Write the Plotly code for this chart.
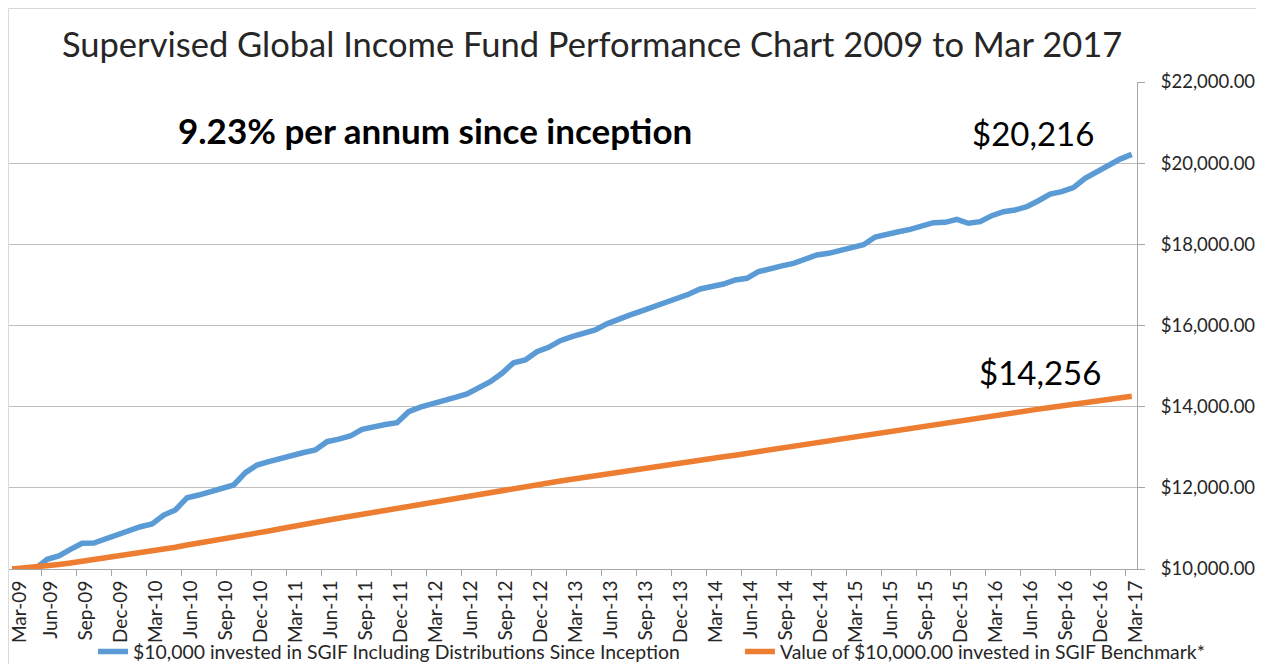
import pandas as pd
import plotly.graph_objects as go

# Months Mar-09 .. Mar-17
months = [d.strftime("%b-%y") for d in pd.date_range("2009-03-01", "2017-03-01", freq="MS")]

sgif = [10000, 9995, 10010, 10240, 10320, 10485, 10633, 10640, 10747, 10862,
        10961, 11042, 11109, 11330, 11454, 11757, 11823, 11905, 11988, 12070,
        12373, 12562, 12644, 12727, 12809, 12870, 12932, 13137, 13200, 13277,
        13442, 13510, 13560, 13605, 13876, 13990, 14080, 14150, 14230, 14312,
        14450, 14615, 14822, 15083, 15150, 15354, 15462, 15625, 15724, 15800,
        15890, 16040, 16160, 16260, 16360, 16460, 16580, 16660, 16769, 16900,
        16957, 17022, 17121, 17163, 17326, 17408, 17470, 17532, 17631, 17737,
        17779, 17850, 17900, 17990, 18180, 18230, 18311, 18370, 18440, 18533,
        18542, 18616, 18518, 18558, 18706, 18804, 18846, 18928, 19075, 19240,
        19297, 19396, 19627, 19790, 19938, 20100, 20216]

benchmark = [10000, 10020, 10045, 10070, 10110, 10150, 10190, 10230, 10270, 10310,
             10350, 10390, 10430, 10480, 10535, 10590, 10635, 10685, 10730, 10780,
             10830, 10880, 10935, 10990, 11050, 11100, 11150, 11200, 11250, 11300,
             11350, 11400, 11450, 11500, 11550, 11600, 11650, 11700, 11750, 11800,
             11845, 11895, 11940, 11985, 12035, 12080, 12125, 12170, 12210, 12255,
             12300, 12340, 12380, 12420, 12460, 12505, 12545, 12590, 12635, 12675,
             12720, 12765, 12805, 12850, 12890, 12935, 12975, 13015, 13050, 13090,
             13135, 13175, 13220, 13265, 13310, 13355, 13400, 13445, 13490, 13535,
             13585, 13630, 13675, 13720, 13765, 13810, 13855, 13900, 13940, 13980,
             14020, 14060, 14100, 14140, 14180, 14220, 14256]

series_names = ["$10,000 invested in SGIF Including Distributions Since Inception",
                "Value of $10,000.00 invested in SGIF Benchmark*"]
y_ticks = [10000, 12000, 14000, 16000, 18000, 20000, 22000]
label_every = 3

FONT = "Lato"
idx = list(range(len(months)))
lab_idx = idx[::label_every]
# rotated labels sit a little right of their month; the first one a bit more so it stays on the page
label_pos = [i + (0.7 if i == 0 else 0.36) for i in lab_idx]

fig = go.Figure()
fig.add_trace(go.Scatter(x=idx, y=sgif, mode="lines", name=series_names[0],
                         line=dict(color="#5B9BD5", width=5.5), customdata=months,
                         legend="legend",
                         hovertemplate="%{customdata}: $%{y:,.0f}<extra></extra>"))
fig.add_trace(go.Scatter(x=idx, y=benchmark, mode="lines", name=series_names[1],
                         line=dict(color="#ED7D31", width=5.5), customdata=months,
                         legend="legend2",
                         hovertemplate="%{customdata}: $%{y:,.0f}<extra></extra>"))

leg_font = dict(family=FONT, size=19.4, color="#262626")
fig.update_layout(
    width=1248, height=656,
    margin=dict(l=1, r=119, t=74, b=95, autoexpand=False),
    paper_bgcolor="white", plot_bgcolor="white",
    font=dict(family=FONT, color="#262626"),
    title=dict(text="Supervised Global Income Fund Performance Chart 2009 to Mar 2017",
               x=0.468, xanchor="center", y=0.9436, yanchor="middle",
               font=dict(family=FONT, size=34.5, color="#262626")),
    showlegend=True,
    legend=dict(orientation="h", x=0.0745, xanchor="left", y=-0.1704, yanchor="middle",
                font=leg_font, bgcolor="rgba(0,0,0,0)"),
    legend2=dict(orientation="h", x=0.648, xanchor="left", y=-0.1704, yanchor="middle",
                 font=leg_font, bgcolor="rgba(0,0,0,0)"),
    xaxis=dict(range=[-0.27, 96.45], tickmode="array",
               tickvals=label_pos,
               ticktext=[months[i] for i in lab_idx], tickangle=-90,
               ticks="", showgrid=False, zeroline=False,
               showline=True, linecolor="#A6A6A6", linewidth=1,
               ticklabelstandoff=3, ticklabeloverflow="allow",
               tickfont=dict(family=FONT, size=19, color="#262626"),
               minor=dict(tickvals=[i - 0.5 for i in lab_idx if i > 0], ticks="outside",
                          ticklen=6, tickcolor="#A6A6A6", tickwidth=1, showgrid=False)),
    yaxis=dict(side="right", range=[10000, 22000], tickmode="array", tickvals=y_ticks,
               tickformat="$,.2f", ticks="outside", ticklen=7, tickcolor="#A6A6A6",
               showgrid=True, gridcolor="#BFBFBF", gridwidth=1, zeroline=False,
               showline=True, linecolor="#A6A6A6", linewidth=1,
               ticklabelstandoff=12, ticklabeloverflow="allow",
               tickfont=dict(family=FONT, size=18.5, color="#262626")),
)

# chart frame (top and left border)
fig.add_shape(type="line", xref="paper", yref="paper", x0=-0.0004, x1=1.2,
              y0=1.1509, y1=1.1509, line=dict(color="#D9D9D9", width=1))
fig.add_shape(type="line", xref="paper", yref="paper", x0=-0.0004, x1=-0.0004,
              y0=-0.3, y1=1.1509, line=dict(color="#D9D9D9", width=1))

fig.add_annotation(text="<b>9.23% per annum since inception</b>", xref="paper", yref="paper",
                   x=0.3777, y=0.901, xanchor="center", yanchor="middle", showarrow=False,
                   font=dict(family=FONT, size=35, color="black"))
fig.add_annotation(text="$20,216", xref="paper", yref="paper",
                   x=0.9078, y=0.895, xanchor="center", yanchor="middle", showarrow=False,
                   font=dict(family=FONT, size=33, color="black"))
fig.add_annotation(text="$14,256", xref="paper", yref="paper",
                   x=0.914, y=0.4045, xanchor="center", yanchor="middle", showarrow=False,
                   font=dict(family=FONT, size=33, color="black"))

fig.write_html("out.html")
